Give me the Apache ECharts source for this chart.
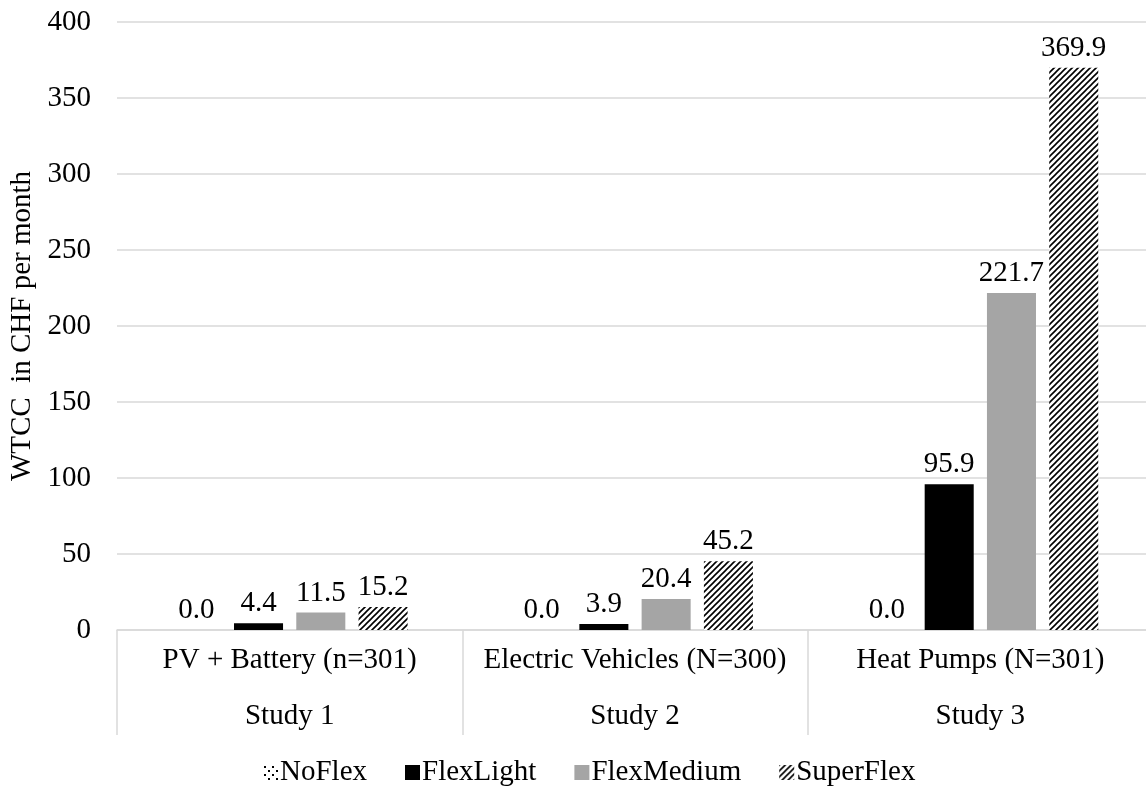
<!DOCTYPE html>
<html>
<head>
<meta charset="utf-8">
<script src="https://cdn.jsdelivr.net/npm/echarts@6/dist/echarts.min.js"></script>
<style>
  html, body { margin: 0; padding: 0; background: #fff; overflow: hidden; }
  #chart { width: 1146px; height: 787px; }
</style>
</head>
<body>
<div id="chart"></div>
<script>
// data
const studies = ['PV + Battery (n=301)', 'Electric Vehicles (N=300)', 'Heat Pumps (N=301)'];
const studyNames = ['Study 1', 'Study 2', 'Study 3'];
const seriesNames = ['NoFlex', 'FlexLight', 'FlexMedium', 'SuperFlex'];
const noFlex = [0.0, 0.0, 0.0];
const flexLight = [4.4, 3.9, 95.9];
const flexMedium = [11.5, 20.4, 221.7];
const superFlex = [15.2, 45.2, 369.9];
const yTicks = [0, 50, 100, 150, 200, 250, 300, 350, 400];

const FONT = '"Liberation Serif", "Times New Roman", serif';

// hatch pattern for SuperFlex
function makeHatch() {
    var c = document.createElement('canvas');
    c.width = 6; c.height = 6;
    var ctx = c.getContext('2d');
    ctx.fillStyle = '#fff';
    ctx.fillRect(0, 0, 6, 6);
    ctx.strokeStyle = '#000';
    ctx.lineWidth = 1.6;
    ctx.beginPath();
    ctx.moveTo(-1, 7); ctx.lineTo(7, -1);
    ctx.moveTo(-4, 4); ctx.lineTo(4, -4);
    ctx.moveTo(2, 10); ctx.lineTo(10, 2);
    ctx.stroke();
    return c;
}
// sparse dots for NoFlex
function makeDots() {
    var c = document.createElement('canvas');
    c.width = 8; c.height = 8;
    var ctx = c.getContext('2d');
    ctx.fillStyle = '#fff';
    ctx.fillRect(0, 0, 8, 8);
    ctx.fillStyle = '#000';
    ctx.fillRect(1, 1, 2, 2);
    ctx.fillRect(5, 5, 2, 2);
    return c;
}

const colors = [
    { image: makeDots(), repeat: 'repeat' },
    '#000000',
    '#a5a5a5',
    { image: makeHatch(), repeat: 'repeat' }
];
const values = [noFlex, flexLight, flexMedium, superFlex];

var myChart = echarts.init(document.getElementById('chart'));

var series = [];
for (var i = 0; i < seriesNames.length; i++) {
    series.push({
        name: seriesNames[i],
        type: 'bar',
        data: values[i],
        barGap: '27%',
        barCategoryGap: '31.7%',
        itemStyle: { color: colors[i] },
        label: {
            show: true,
            position: 'top',
            distance: 5,
            color: '#000',
            fontFamily: FONT,
            fontSize: 29,
            formatter: function (p) { return p.value.toFixed(1); }
        }
    });
}

var option = {
    animation: false,
    textStyle: { fontFamily: FONT },
    // the source figure is cut off at the right, the plot runs past the edge
    grid: { left: 117, right: -7, top: 22, bottom: 157, outerBoundsMode: 'none' },
    legend: {
        data: seriesNames,
        bottom: -5,
        left: 258,
        icon: 'rect',
        itemWidth: 15,
        itemHeight: 15,
        itemGap: 38,
        textStyle: { fontFamily: FONT, fontSize: 29, color: '#000', padding: [0, 0, 0, -3] }
    },
    xAxis: {
        type: 'category',
        data: studies,
        axisLine: { lineStyle: { color: '#d9d9d9', width: 1.5 } },
        axisTick: {
            show: true,
            length: 105,
            lineStyle: { color: '#d9d9d9', width: 1.5 }
        },
        axisLabel: {
            interval: 0,
            margin: 2,
            formatter: function (v, idx) {
                return '{a|' + v + '}\n{a|' + studyNames[idx] + '}';
            },
            rich: {
                a: { fontFamily: FONT, fontSize: 29, color: '#000', lineHeight: 56 }
            }
        }
    },
    yAxis: {
        type: 'value',
        min: yTicks[0],
        max: yTicks[yTicks.length - 1],
        interval: 50,
        name: 'WTCC  in CHF per month',
        nameLocation: 'middle',
        nameGap: 74,
        nameTextStyle: { fontFamily: FONT, fontSize: 29, color: '#000' },
        axisLine: { show: false },
        axisTick: { show: false },
        axisLabel: { fontFamily: FONT, fontSize: 29, color: '#000', margin: 26 },
        splitLine: { lineStyle: { color: '#d9d9d9', width: 1.5 } }
    },
    series: series
};

option && myChart.setOption(option);
</script>
</body>
</html>
